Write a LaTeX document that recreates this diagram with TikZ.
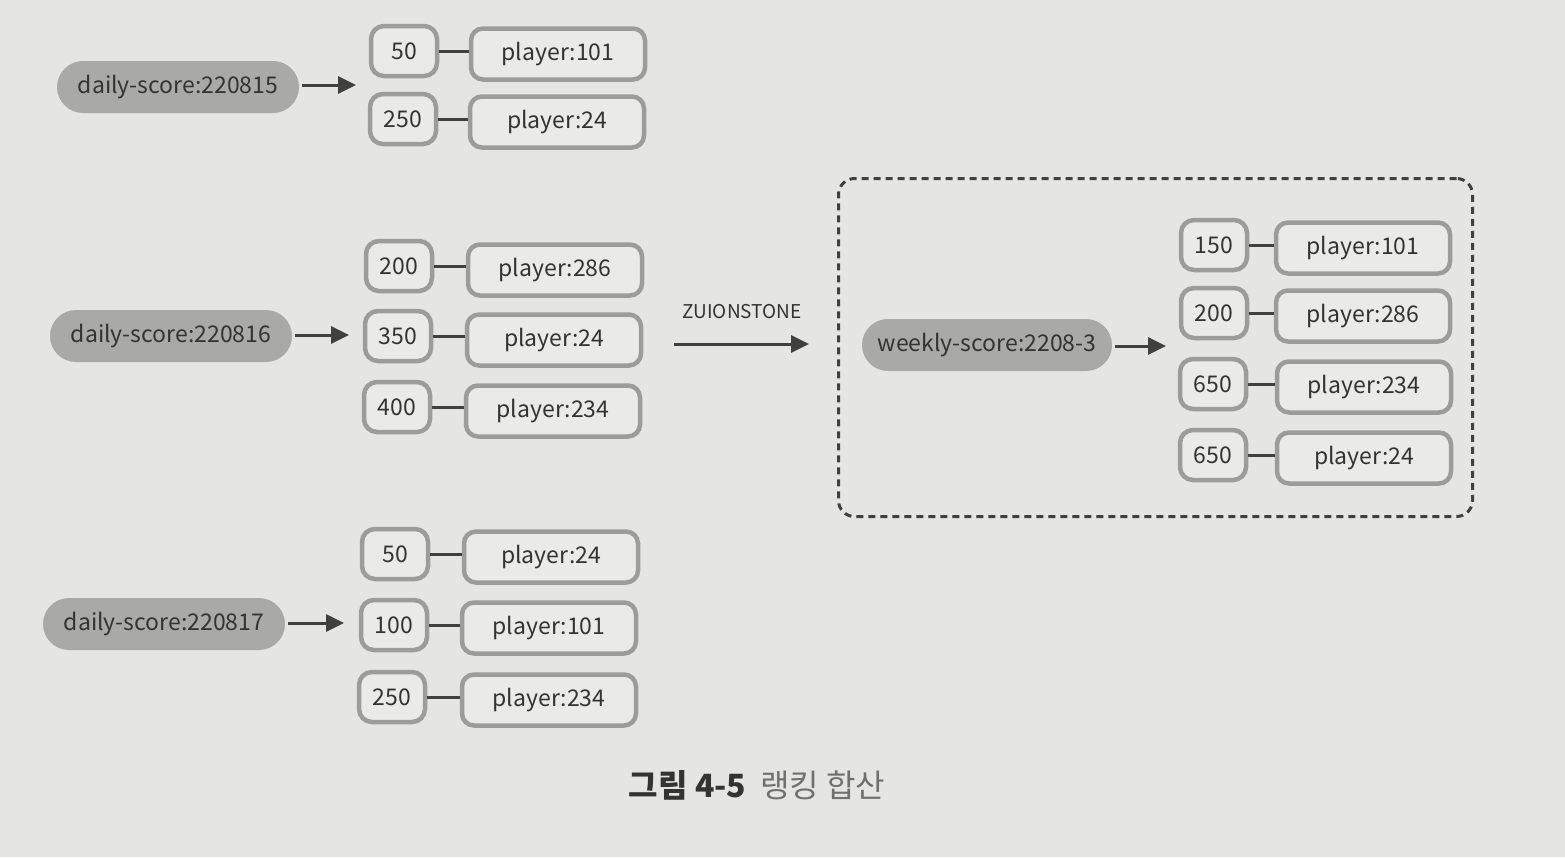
\documentclass[tikz,border=0pt]{standalone}
\usepackage{fontspec}
\setmainfont{Noto Sans CJK KR}
\usetikzlibrary{arrows.meta}
\definecolor{bg}{HTML}{E5E5E3}
\definecolor{boxline}{HTML}{9C9C9C}
\definecolor{boxfill}{HTML}{EAEAE8}
\definecolor{pillc}{HTML}{A9A9A7}
\definecolor{txt}{HTML}{333333}
\definecolor{dark}{HTML}{404040}
\definecolor{capgray}{HTML}{707070}
\begin{document}
\begin{tikzpicture}[x=1pt,y=-1pt,
  scorebox/.style={draw=boxline, line width=4.5pt, fill=boxfill, rounded corners=13pt,
    minimum width=66pt, minimum height=50pt, inner sep=0pt, text=txt,
    font=\fontsize{23}{27}\selectfont},
  playerbox/.style={draw=boxline, line width=4.5pt, fill=boxfill, rounded corners=12pt,
    minimum width=174pt, minimum height=51pt, inner sep=0pt, text=txt,
    font=\fontsize{23}{27}\selectfont},
  pill/.style={fill=pillc, rounded corners=26pt, minimum width=242pt, minimum height=52pt,
    inner sep=0pt, text=txt, font=\fontsize{23}{27}\selectfont},
  link/.style={draw=dark, line width=3pt},
  flow/.style={draw=dark, line width=3pt, -{Triangle[length=18pt,width=17pt]}},
]
\fill[bg] (0,0) rectangle (1565,857);
\useasboundingbox (0,0) rectangle (1565,857);

% group 1
\node[pill] (d1) at (178,87) {daily-score:220815};
\coordinate (d1e) at (356,85);
\draw[flow] ([xshift=3pt]d1.east |- d1e) -- (d1e);
\node[scorebox] (s11) at (404,51) {50};
\node[playerbox] (p11) at (558,54) {player:101};
\node[scorebox] (s12) at (403,119) {250};
\node[playerbox] (p12) at (557,122) {player:24};
\draw[link] (s11.east) -- (s11.east -| p11.west);
\draw[link] (s12.east) -- (s12.east -| p12.west);

% group 2
\node[pill] (d2) at (171,336) {daily-score:220816};
\coordinate (d2e) at (349,335);
\draw[flow] ([xshift=3pt]d2.east |- d2e) -- (d2e);
\node[scorebox] (s21) at (399,266) {200};
\node[playerbox] (p21) at (555,270) {player:286};
\node[scorebox] (s22) at (398,336) {350};
\node[playerbox] (p22) at (554,340) {player:24};
\node[scorebox] (s23) at (397,407) {400};
\node[playerbox] (p23) at (553,411) {player:234};
\draw[link] (s21.east) -- (s21.east -| p21.west);
\draw[link] (s22.east) -- (s22.east -| p22.west);
\draw[link] (s23.east) -- (s23.east -| p23.west);

% group 3
\node[pill] (d3) at (164,624) {daily-score:220817};
\coordinate (d3e) at (344,623);
\draw[flow] ([xshift=3pt]d3.east |- d3e) -- (d3e);
\node[scorebox] (s31) at (395,554) {50};
\node[playerbox] (p31) at (551,557) {player:24};
\node[scorebox] (s32) at (394,625) {100};
\node[playerbox] (p32) at (549,628) {player:101};
\node[scorebox] (s33) at (392,697) {250};
\node[playerbox] (p33) at (549,700) {player:234};
\draw[link] (s31.east) -- (s31.east -| p31.west);
\draw[link] (s32.east) -- (s32.east -| p32.west);
\draw[link] (s33.east) -- (s33.east -| p33.west);

% ZUIONSTONE arrow
\coordinate (za) at (674,344);
\coordinate (zb) at (809,344);
\draw[flow] (za) -- (zb);
\node[text=txt, font=\fontsize{19}{22}\selectfont] (zl) at (742,312) {ZUIONSTONE};

% weekly box
\node[draw=dark, line width=3pt, dash pattern=on 7pt off 5pt, rounded corners=16pt,
  minimum width=634pt, minimum height=338pt] (wk) at (1155.5,347.5) {};
\node[pill, minimum width=250pt] (w) at (987,345) {weekly-score:2208-3};
\coordinate (we) at (1166,346);
\draw[flow] ([xshift=3pt]w.east |- we) -- (we);
\node[scorebox] (s41) at (1214,245) {150};
\node[playerbox] (p41) at (1363,248) {player:101};
\node[scorebox] (s42) at (1214,313) {200};
\node[playerbox] (p42) at (1363,316) {player:286};
\node[scorebox] (s43) at (1213,384) {650};
\node[playerbox] (p43) at (1364,387) {player:234};
\node[scorebox] (s44) at (1213,455) {650};
\node[playerbox] (p44) at (1364,458) {player:24};
\draw[link] (s41.east) -- (s41.east -| p41.west);
\draw[link] (s42.east) -- (s42.east -| p42.west);
\draw[link] (s43.east) -- (s43.east -| p43.west);
\draw[link] (s44.east) -- (s44.east -| p44.west);

% caption
\node[font=\fontsize{32}{36}\selectfont] (cap) at (757,785)
  {\textbf{\textcolor{txt}{그림 4-5}}\hspace{14pt}\textcolor{capgray}{랭킹 합산}};
\end{tikzpicture}
\end{document}
